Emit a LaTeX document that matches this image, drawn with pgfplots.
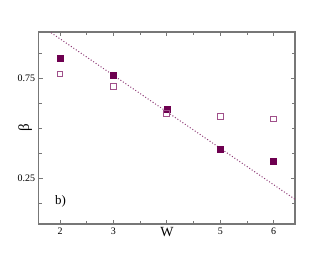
\documentclass[border=0pt]{standalone}
\usepackage{pgfplots}
\pgfplotsset{compat=1.18}
\usepackage{fontspec}
\setmainfont{Liberation Serif}
\definecolor{dark}{HTML}{6E0050}
\definecolor{light}{HTML}{A0508A}
\definecolor{linec}{HTML}{8E3A76}
\definecolor{frame}{HTML}{777777}
\begin{document}
\begin{tikzpicture}[x=1bp,y=1bp]
\path[use as bounding box] (-38.7bp,-33bp) rectangle (293.3bp,192bp+32bp);
\begin{axis}[
  at={(0,0)}, anchor=south west,
  scale only axis, width=256.3bp, height=192bp,
  xmin=1.6, xmax=6.4, ymin=0.02, ymax=0.98,
  xtick={2,3,4,5,6},
  xticklabels={2,3,{\fontsize{14}{14}\selectfont W},5,6},
  minor xtick={2.5,3.5,4.5,5.5},
  ytick={0.25,0.75},
  yticklabels={0.25,0.75},
  minor ytick={0.125,0.375,0.5,0.625,0.875},
  tick align=inside,
  major tick length=4bp, minor tick length=3bp,
  axis line style={frame, line width=1.2bp},
  every tick/.style={frame, line width=0.8bp},
  tick label style={font=\fontsize{10}{10}\selectfont},
  /pgf/number format/assume math mode=true,
  ylabel={\fontsize{15}{15}\selectfont β},
  ylabel style={at={(axis description cs:-0.053,0.5)}, anchor=center},
  clip=true,
]
\addplot[linec, line width=1bp, dash pattern=on 1bp off 2bp] coordinates {(1.6,1.0186) (6.4,0.1435)};
\addplot[only marks, mark=square*, mark size=3bp, mark options={fill=dark, draw=dark}] coordinates {
(2,0.85) (3,0.762) (4,0.593) (5,0.393) (6,0.333)};
\addplot[only marks, mark=square, mark size=2.9bp, mark options={draw=light, line width=1bp, fill=white}] coordinates {
(2,0.77) (3,0.707) (4,0.572) (5,0.558) (6,0.545)};
\node[font=\fontsize{13}{13}\selectfont] at (axis cs:2.009,0.135) {b)};
\end{axis}
\end{tikzpicture}
\end{document}
